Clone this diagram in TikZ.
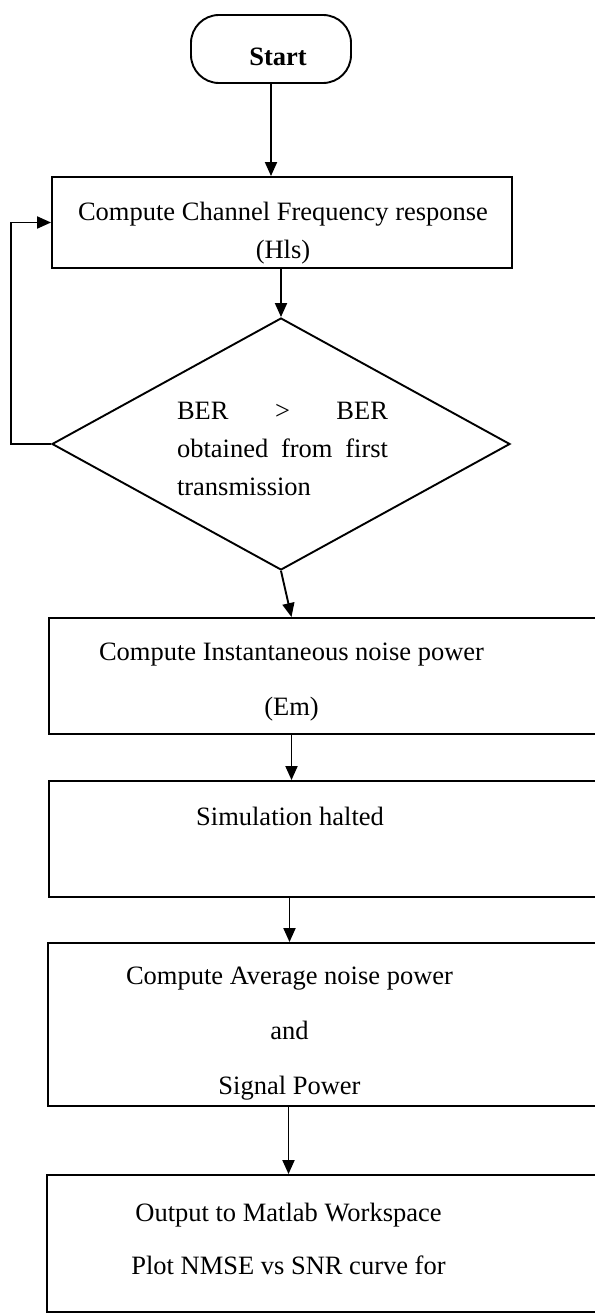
\documentclass[tikz,border=0pt]{standalone}
\usepackage{fontspec}
\setmainfont{Liberation Serif}
\usetikzlibrary{arrows.meta,shapes.geometric}
\begin{document}
\begin{tikzpicture}[x=1pt,y=-1pt,
  every node/.style={font=\fontsize{26.5}{38}\selectfont},
  shapeline/.style={draw=black, line width=1.9pt, inner sep=0pt},
  procbox/.style={shapeline, rectangle},
  termbox/.style={shapeline, rectangle, rounded corners=28pt},
  decbox/.style={shapeline, diamond},
  boxtext/.style={align=center, inner sep=0pt},
  widetext/.style={align=center, inner sep=0pt, font=\fontsize{26.5}{55}\selectfont},
  arr/.style={line width=1.9pt, -{Triangle[length=14pt,width=12pt]}}
]
\useasboundingbox (0,0) rectangle (594,1313);

% terminal
\node[termbox, minimum width=160pt, minimum height=68pt] (start) at (271,49) {};
\node[inner sep=0pt] (tstart) at (278,57) {\bfseries Start};

% channel estimate
\node[procbox, minimum width=460pt, minimum height=91pt] (box1) at (282,222.5) {};
\node[boxtext] (t1) at (283,233) {Compute Channel Frequency response\\(Hls)};

% decision
\node[decbox, minimum width=458pt, minimum height=252pt] (dec) at (281,444) {};
\node[inner sep=0pt, align=left] (tdec) at (282.5,449)
  {\makebox[211pt][s]{BER\hfill>\hfill BER}\\
   \makebox[211pt][s]{obtained from first}\\
   transmission};

% noise power
\node[procbox, minimum width=591pt, minimum height=116pt] (box2) at (344.5,676) {};
\node[widetext] (t2) at (291.5,682.5) {Compute Instantaneous noise power\\(Em)};

% halt
\node[procbox, minimum width=591pt, minimum height=116pt] (box3) at (344.5,839) {};
\node[boxtext] (t3) at (290,816) {Simulation halted};

% averages
\node[procbox, minimum width=592pt, minimum height=163pt] (box4) at (344,1024.5) {};
\node[widetext] (t4) at (289.5,1034) {Compute Average noise power\\and\\Signal Power};

% output
\node[procbox, minimum width=593pt, minimum height=137pt] (box5) at (343.5,1243.5) {};
\node[boxtext, font=\fontsize{26.5}{53}\selectfont] (t5) at (288.5,1239)
  {Output to Matlab Workspace\\Plot NMSE vs SNR curve for};

% connectors
\draw[arr] (start.south) -- (start.south |- box1.north);
\draw[arr] (box1.south -| dec.north) -- (dec.north);
\draw[arr] (dec.west) -- ++(-40,0) |- (box1.west);
\draw[arr] (dec.south) -- (t2 |- box2.north);
\draw[arr] (t2 |- box2.south) -- (t2 |- box3.north);
\draw[arr] (t4 |- box3.south) -- (t4 |- box4.north);
\draw[arr] (t5 |- box4.south) -- (t5 |- box5.north);
\end{tikzpicture}
\end{document}
